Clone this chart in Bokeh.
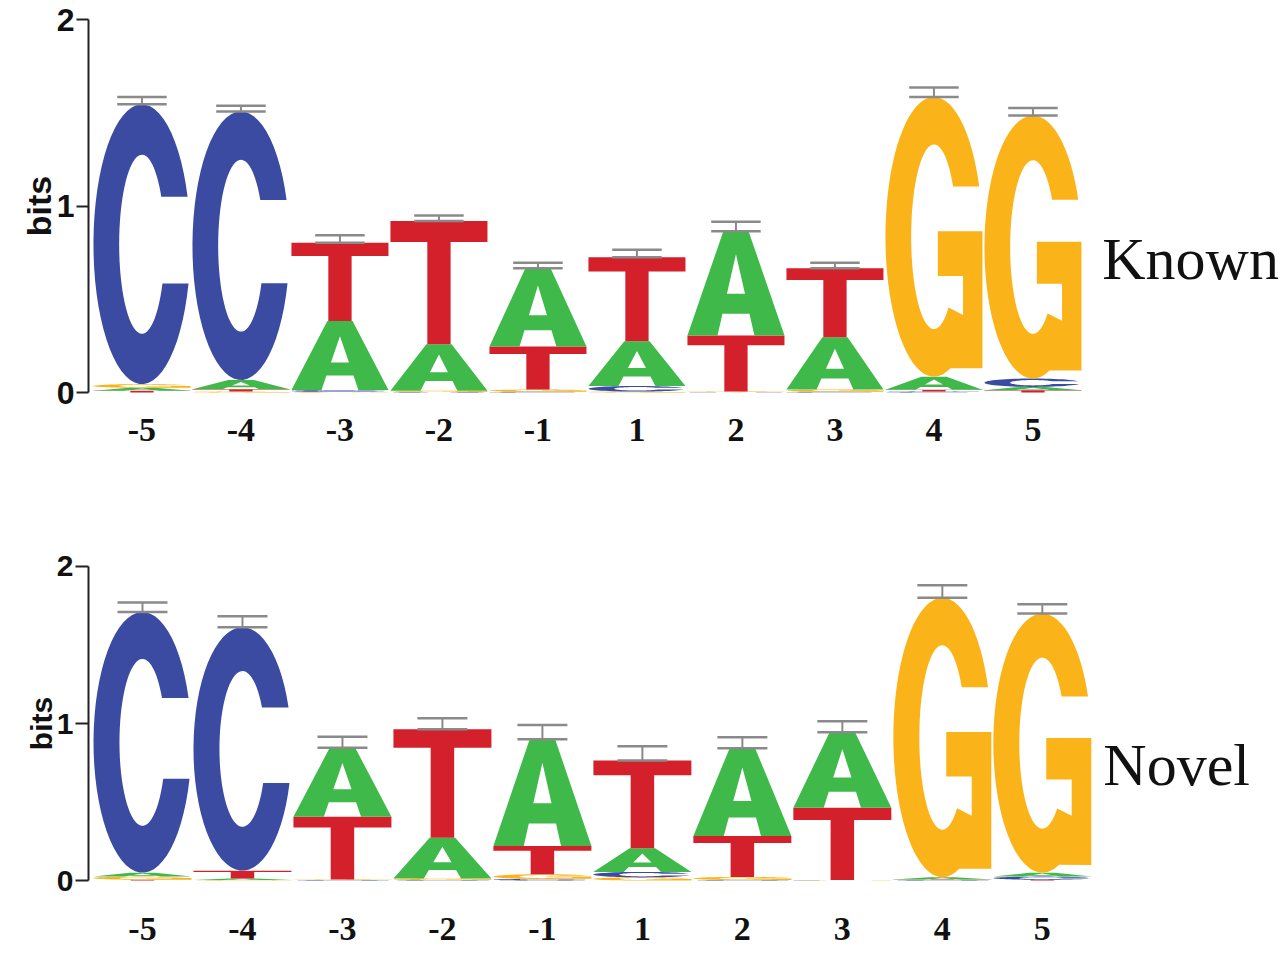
import numpy as np
from bokeh.plotting import figure
from bokeh.layouts import column
from bokeh.models import Label, FixedTicker
from bokeh.embed import file_html
from bokeh.resources import INLINE

# ---------------- data ----------------
positions = ["-5", "-4", "-3", "-2", "-1", "1", "2", "3", "4", "5"]
bases = ["A", "C", "G", "T"]

# Known motif: information (bits) of each base per position
known_A = [0.015, 0.050, 0.370, 0.250, 0.420, 0.240, 0.560, 0.280, 0.070, 0.018]
known_C = [1.500, 1.440, 0.010, 0.003, 0.004, 0.030, 0.002, 0.004, 0.005, 0.045]
known_G = [0.020, 0.005, 0.003, 0.006, 0.012, 0.005, 0.003, 0.012, 1.500, 1.410]
known_T = [0.010, 0.012, 0.420, 0.660, 0.230, 0.450, 0.300, 0.370, 0.010, 0.012]
known_err = [0.04, 0.03, 0.04, 0.03, 0.03, 0.04, 0.05, 0.03, 0.05, 0.04]

# Novel motif
novel_A = [0.025, 0.010, 0.440, 0.260, 0.680, 0.150, 0.560, 0.480, 0.015, 0.025]
novel_C = [1.660, 1.550, 0.003, 0.003, 0.010, 0.035, 0.003, 0.002, 0.003, 0.020]
novel_G = [0.020, 0.003, 0.003, 0.010, 0.030, 0.020, 0.020, 0.002, 1.780, 1.650]
novel_T = [0.005, 0.050, 0.400, 0.690, 0.180, 0.560, 0.260, 0.460, 0.003, 0.005]
novel_err = [0.06, 0.07, 0.07, 0.07, 0.09, 0.09, 0.07, 0.07, 0.08, 0.06]

known_label = "Known"
novel_label = "Novel"

colors = {"A": "#3fb94a", "C": "#3a4ba1", "G": "#fbb31a", "T": "#d3202b"}

# ---------------- letter outlines (unit box) ----------------
def arc(cx, cy, rx, ry, a0, a1, n=60):
    t = np.radians(np.linspace(a0, a1, n))
    return list(cx + rx * np.cos(t)), list(cy + ry * np.sin(t))

def shape_C():
    ro, ri = (0.5, 0.5), (0.235, 0.32)
    up, lo = 0.67, 0.36
    ao1 = np.degrees(np.arcsin((up - 0.5) / ro[1]))
    ao2 = 360 + np.degrees(np.arcsin((lo - 0.5) / ro[1]))
    ai1 = np.degrees(np.arcsin((up - 0.5) / ri[1]))
    ai2 = 360 + np.degrees(np.arcsin((lo - 0.5) / ri[1]))
    xo, yo = arc(0.5, 0.5, ro[0], ro[1], ao1, ao2)
    xi, yi = arc(0.5, 0.5, ri[0], ri[1], ai2, ai1)
    return [(xo + xi, yo + yi)]

def shape_G():
    ro, ri = (0.5, 0.5), (0.235, 0.33)
    up = 0.68
    ao1 = np.degrees(np.arcsin((up - 0.5) / ro[1]))
    ai1 = np.degrees(np.arcsin((up - 0.5) / ri[1]))
    xo, yo = arc(0.5, 0.5, ro[0], ro[1], ao1, 290)
    xs = xo + [1.0, 1.0, 0.54, 0.54, 0.80, 0.80]
    ys = yo + [0.03, 0.52, 0.52, 0.36, 0.36, 0.22]
    xi, yi = arc(0.5, 0.5, ri[0], ri[1], 310, ai1)
    return [(xs + xi, ys + yi)]

def shape_A():
    outer = ([0, 0.37, 0.63, 1, 0.69, 0.639, 0.361, 0.31],
             [0, 1, 1, 0, 0, 0.21, 0.21, 0])
    hole = ([0.407, 0.593, 0.5], [0.40, 0.40, 0.78])
    return [outer, hole]

def shape_T():
    return [([0, 1, 1, 0.62, 0.62, 0.38, 0.38, 0],
             [1, 1, 0.83, 0.83, 0, 0, 0.83, 0.83])]

shapes = {"A": shape_A(), "C": shape_C(), "G": shape_G(), "T": shape_T()}

FIG_W = 1280


def make_logo(heights, err, label, px_bit, left_border, top_border, bottom_border,
              fig_h, px_unit, label_xy, standoff, tick_out, ylab_size, bits_size,
              bits_standoff):
    y_start = -8.0 / px_bit
    y_end = 2.0 + 8.0 / px_bit
    x_end = 0.46 + (FIG_W - left_border) / px_unit
    p = figure(width=FIG_W, height=fig_h, x_range=(0.46, x_end),
               y_range=(y_start, y_end), output_backend="svg",
               toolbar_location=None, min_border_left=left_border,
               min_border_right=0, min_border_top=top_border,
               min_border_bottom=bottom_border)
    p.outline_line_color = None
    p.grid.visible = False
    p.background_fill_color = "white"

    xs, ys, cols = [], [], []
    tops = []
    for i in range(len(positions)):
        col = i + 1
        vals = [(heights[b][i], b) for b in bases]
        vals.sort()
        y0 = 0.0
        for h, b in vals:
            if h > 0.0005:
                rings_x, rings_y = [], []
                for rx, ry in shapes[b]:
                    rings_x.append([col - 0.49 + 0.98 * u for u in rx])
                    rings_y.append([y0 + h * v for v in ry])
                xs.append([rings_x])
                ys.append([rings_y])
                cols.append(colors[b])
            y0 += h
        tops.append(y0)

    p.multi_polygons(xs=xs, ys=ys, fill_color=cols, line_color=None)

    cx = np.arange(1, len(positions) + 1)
    tops = np.array(tops)
    e = np.array(err)
    ec = "#8a8a8a"
    p.segment(x0=cx - 0.25, y0=tops, x1=cx + 0.25, y1=tops, line_color=ec, line_width=2.5)
    p.segment(x0=cx - 0.25, y0=tops + e, x1=cx + 0.25, y1=tops + e, line_color=ec, line_width=2.5)
    p.segment(x0=cx, y0=tops, x1=cx, y1=tops + e, line_color=ec, line_width=2)

    # y axis
    ya = p.yaxis[0]
    ya.ticker = FixedTicker(ticks=[0, 1, 2])
    ya.bounds = (0, 2)
    ya.axis_line_width = 2
    ya.axis_line_color = "#222222"
    ya.major_tick_line_width = 2
    ya.major_tick_line_color = "#222222"
    ya.major_tick_in = 0
    ya.major_tick_out = tick_out
    ya.minor_tick_line_color = None
    ya.major_label_standoff = 2
    ya.major_label_text_font = "Liberation Sans"
    ya.major_label_text_font_style = "bold"
    ya.major_label_text_font_size = ylab_size
    ya.major_label_text_color = "#111111"
    ya.axis_label = "bits"
    ya.axis_label_text_font = "Liberation Sans"
    ya.axis_label_text_font_style = "bold"
    ya.axis_label_text_font_size = bits_size
    ya.axis_label_text_color = "#111111"
    ya.axis_label_standoff = bits_standoff

    # x axis
    xa = p.xaxis[0]
    xa.ticker = FixedTicker(ticks=list(range(1, len(positions) + 1)))
    xa.major_label_overrides = {i + 1: s for i, s in enumerate(positions)}
    xa.axis_line_color = None
    xa.major_tick_line_color = None
    xa.minor_tick_line_color = None
    xa.major_label_standoff = standoff
    xa.major_label_text_font = "Liberation Serif"
    xa.major_label_text_font_style = "bold"
    xa.major_label_text_font_size = "34px"
    xa.major_label_text_color = "#111111"

    p.add_layout(Label(x=label_xy[0], y=label_xy[1], text=label,
                       text_font="Liberation Serif", text_font_size="60px",
                       text_color="#111111", text_baseline="alphabetic"))
    return p


known = {"A": known_A, "C": known_C, "G": known_G, "T": known_T}
novel = {"A": novel_A, "C": novel_C, "G": novel_G, "T": novel_T}

p1 = make_logo(known, known_err, known_label, px_bit=186.5, left_border=88,
               top_border=11, bottom_border=70, fig_h=470, px_unit=99.0,
               label_xy=(10.70, 0.718), standoff=12, tick_out=12,
               ylab_size="32px", bits_size="34px", bits_standoff=-4)
p2 = make_logo(novel, novel_err, novel_label, px_bit=157.5, left_border=83,
               top_border=88, bottom_border=66, fig_h=484, px_unit=100.4,
               label_xy=(10.61, 0.737), standoff=23, tick_out=13,
               ylab_size="30px", bits_size="30px", bits_standoff=-4)

layout = column(p1, p2, spacing=0)
open("out.html", "w").write(file_html(layout, INLINE))
